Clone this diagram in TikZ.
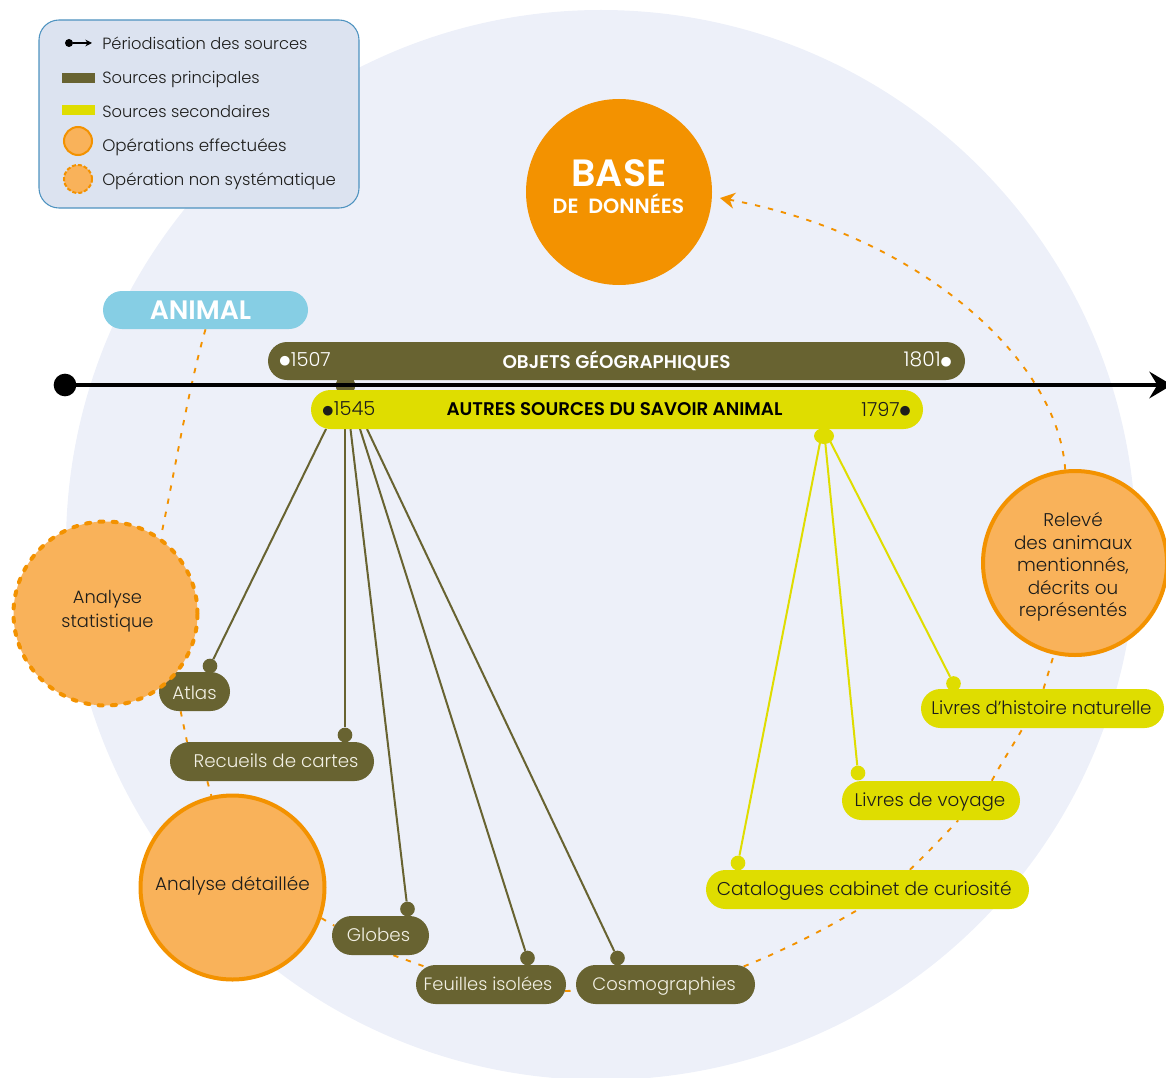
\documentclass[tikz,border=0pt]{standalone}
\usepackage{fontspec}
\setmainfont{Poppins}[UprightFont=* Light,BoldFont=* SemiBold]
\newfontfamily\dejavu{DejaVu Sans}
\usetikzlibrary{shapes.misc,shapes.geometric,arrows.meta,backgrounds}
\definecolor{bgblue}{HTML}{EDF0F9}
\definecolor{legfill}{HTML}{DCE3F0}
\definecolor{legline}{HTML}{4E93C0}
\definecolor{olive}{HTML}{686331}
\definecolor{lime}{HTML}{DFDD00}
\definecolor{orange1}{HTML}{F39200}
\definecolor{orange2}{HTML}{F9B25A}
\definecolor{skyb}{HTML}{86CEE4}
\definecolor{ink}{HTML}{1D1D1B}
\definecolor{paper}{HTML}{F2F0E4}
\pgfdeclarelayer{conn}
\pgfsetlayers{background,conn,main}
\newcommand{\fs}[1]{\fontsize{#1}{#1}\selectfont}
\newcommand{\dotg}{\raisebox{1.2pt}{\dejavu\fontsize{9.5}{9.5}\selectfont ●}\hspace{0.5pt}}
\newcommand{\block}[1]{\begin{tabular}{@{}c@{}}#1\end{tabular}}
\tikzset{
  x=0.75pt,y=-0.75pt,
  pill/.style={rounded rectangle,inner sep=0pt,minimum height=29.25pt,text height=12pt,text depth=2.5pt},
  oliveb/.style={pill,fill=olive,text=paper,font=\fs{13.7}},
  limeb/.style={pill,fill=lime,text=ink,font=\fs{13.7}},
  op/.style={circle,fill=orange2,draw=orange1,line width=3pt,minimum size=138pt,inner sep=0pt,text=ink,font=\fs{13.8}},
  opdash/.style={op,line cap=round,dash pattern=on 3pt off 7pt},
  odot/.style={circle,fill=olive,minimum size=11pt,inner sep=0pt},
  ldot/.style={circle,fill=lime,minimum size=11pt,inner sep=0pt},
  oline/.style={olive,line width=1.5pt},
  lline/.style={lime,line width=1.5pt},
  link/.style={orange1,line width=1.4pt,dash pattern=on 4pt off 6pt},
  legtext/.style={anchor=west,inner sep=0pt,text=ink,font=\fs{12.2},text height=12pt,text depth=2.5pt},
}
\begin{document}
\begin{tikzpicture}
\useasboundingbox (0,0) rectangle (1166,1077);
\begin{pgfonlayer}{background}
\begin{scope}
\clip (0,0) rectangle (1166,1077);
\fill[bgblue] (601,545) circle[radius=401.25pt];
\end{scope}
\end{pgfonlayer}

% legend
\node[draw=legline,fill=legfill,line width=0.8pt,rounded corners=15pt,minimum width=240pt,minimum height=141pt,inner sep=0pt] (legend) at (199,114) {};
\node[circle,fill=black,minimum size=6pt,inner sep=0pt] (ldot) at (69,43) {};
\coordinate (larr) at (92,43);
\draw[black,line width=0.8pt,-{Stealth[length=5pt,width=5pt]}] (ldot) -- (larr);
\node[legtext] (l1) at (102,43) {Périodisation des sources};
\node[fill=olive,minimum width=24.75pt,minimum height=7.5pt,inner sep=0pt] (s1) at (78.5,78) {};
\node[legtext] (l2) at (102,77) {Sources principales};
\node[fill=lime,minimum width=24.75pt,minimum height=7.5pt,inner sep=0pt] (s2) at (78.5,110) {};
\node[legtext] (l3) at (102,111) {Sources secondaires};
\node[circle,fill=orange2,draw=orange1,line width=1.5pt,minimum size=21pt,inner sep=0pt] (c1) at (78,141) {};
\node[legtext,font=\fs{12.55}] (l4) at (102,145) {Opérations effectuées};
\node[circle,fill=orange2,draw=orange1,line width=1.5pt,dash pattern=on 3pt off 1.5pt,minimum size=21pt,inner sep=0pt] (c2) at (78,179) {};
\node[legtext,font=\fs{12.35}] (l5) at (102,179) {Opération non systématique};

% base
\node[circle,fill=orange1,minimum size=139.5pt,inner sep=0pt] (base) at (619,192) {};
\node[text=white,font=\bfseries\fs{28.5},inner sep=0pt] (baset) at (619,173) {BASE};
\node[text=white,font=\bfseries\fs{15.5},inner sep=0pt] (baset2) at (618.5,204) {DE\ \ DONNÉES};

% animal
\node[pill,fill=skyb,text=white,font=\bfseries\fs{20},minimum width=153.75pt,minimum height=28.5pt,text height=14pt,text depth=0pt] (animal) at (205.5,310) {\hspace*{-7.5pt}ANIMAL};

% timeline
\node[fill=olive,minimum width=14pt,minimum height=12pt,inner sep=0pt,rounded corners=4pt] (stub) at (345.5,385.5) {};
\node[circle,fill=black,minimum size=17pt,inner sep=0pt] (tstart) at (65,385) {};
\coordinate (tend) at (1172,385);
\draw[black,line width=2.6pt,-{Stealth[length=17pt,width=20pt,inset=6pt]}] (tstart.center) -- (tend);

% bars
\node[pill,fill=olive,minimum width=522.75pt,minimum height=28.5pt] (objets) at (616.5,361) {};
\node[text=white,font=\bfseries\fs{13.8},inner sep=0pt] (objt) at (616.5,361) {OBJETS GÉOGRAPHIQUES};
\node[text=white,font=\fs{14.5},inner sep=0pt,anchor=west] (o1507) at (279,359.5) {\dotg 1507};
\node[text=white,font=\fs{15.2},inner sep=0pt,anchor=east] (o1801) at (952,359.5) {1801\dotg};
\node[pill,fill=lime,minimum width=459pt,minimum height=29.25pt] (autres) at (617,409.5) {};
\node[text=black,font=\bfseries\fs{13.75},inner sep=0pt] (autt) at (614.5,409) {AUTRES SOURCES DU SAVOIR ANIMAL};
\node[text=ink,font=\fs{14.5},inner sep=0pt,anchor=west] (o1545) at (322,409) {\dotg 1545};
\node[text=ink,font=\fs{14.5},inner sep=0pt,anchor=east] (o1797) at (911,409) {1797\dotg};
\node[ellipse,fill=lime,minimum width=15pt,minimum height=12pt,inner sep=0pt] (fork) at (824,436) {};

% terminal sources
\node[oliveb,minimum width=53.25pt,text height=15pt,text depth=2.5pt] (atlas) at (194.5,691.5) {Atlas};
\node[oliveb,minimum width=153pt] (recueils) at (272,761.5) {\hspace*{6pt}Recueils de cartes};
\node[oliveb,minimum width=72.75pt] (globes) at (380.5,935.5) {\hspace*{-3pt}Globes};
\node[oliveb,minimum width=112.5pt,font=\fs{13.4}] (feuilles) at (491,984.5) {\hspace*{-4.5pt}Feuilles isolées};
\node[oliveb,minimum width=134.25pt,font=\fs{13.5}] (cosmo) at (665.5,984.5) {\hspace*{-2pt}Cosmographies};
\node[limeb,minimum width=182.25pt] (hist) at (1042.5,708.5) {\hspace*{-1.5pt}Livres d’histoire naturelle};
\node[limeb,minimum width=133.5pt] (voy) at (931,800.5) {\hspace*{-1.5pt}Livres de voyage};
\node[limeb,minimum width=242.25pt,font=\fs{13.9}] (cat) at (867.5,889.5) {\hspace*{-5pt}Catalogues cabinet de curiosité};

% dots
\node[odot] (d1) at (210,666) {};
\node[odot] (d2) at (345,735) {};
\node[odot] (d3) at (407.5,909) {};
\node[odot] (d4) at (527.5,958) {};
\node[odot] (d5) at (617.5,958) {};
\node[ldot] (e1) at (738,863) {};
\node[ldot] (e2) at (858,773) {};
\node[ldot] (e3) at (953.5,683.5) {};

% operations
\node[opdash,font=\fs{13.4}] (stat) at (105.5,613.5) {\hspace*{3pt}\raisebox{-2.1pt}[0pt][0pt]{\block{Analyse\\[3.3pt]statistique}}};
\node[op] (detail) at (232.5,887.5) {\raisebox{-2pt}[0pt][0pt]{Analyse détaillée}};
\node[op] (rel) at (1075,563) {\hspace*{-3pt}\raisebox{-7pt}[0pt][0pt]{\block{Relevé\\[2.2pt]des animaux\\[2.2pt]mentionnés,\\[2.2pt]décrits ou\\[2.2pt]représentés}}};

\begin{pgfonlayer}{conn}
\coordinate (a1) at (326,429);
\coordinate (a2) at (345,429);
\coordinate (a3) at (350.5,429);
\coordinate (a4) at (360,429);
\coordinate (a5) at (367,429);
\draw[oline] (a1) -- (d1);
\draw[oline] (a2) -- (d2);
\draw[oline] (a3) -- (d3);
\draw[oline] (a4) -- (d4);
\draw[oline] (a5) -- (d5);
\coordinate (f1) at (820.5,440);
\coordinate (f2) at (825,440);
\coordinate (f3) at (829.5,440);
\draw[lline] (f1) -- (e1);
\draw[lline] (f2) -- (e2);
\draw[lline] (f3) -- (e3);
\draw[link] (animal.-90) .. controls (188,390) and (175,470) .. (stat.54);
\draw[link] (atlas.-125) -- (recueils.167);
\draw[link] (recueils.-163) -- (detail.103);
\draw[link] (detail.-19) -- (globes.168);
\draw[link] (globes.-57) -- (feuilles.165);
\draw[link] (feuilles.-5) -- (cosmo.-176);
\draw[link] (cosmo.13) .. controls (780,952) and (820,932) .. (cat.-114);
\draw[link] (cat.25) .. controls (925,855) and (942,838) .. (voy.-36);
\draw[link] (voy.18) .. controls (1000,765) and (1012,747) .. (hist.-135);
\draw[link] (hist.87) -- (rel.-103);
\coordinate (btip) at (720,198);
\draw[link,-{Stealth[length=11pt,width=12pt,inset=3.5pt]}] (rel.96) .. controls (1058,360) and (920,235) .. (btip);
\end{pgfonlayer}
\end{tikzpicture}
\end{document}
